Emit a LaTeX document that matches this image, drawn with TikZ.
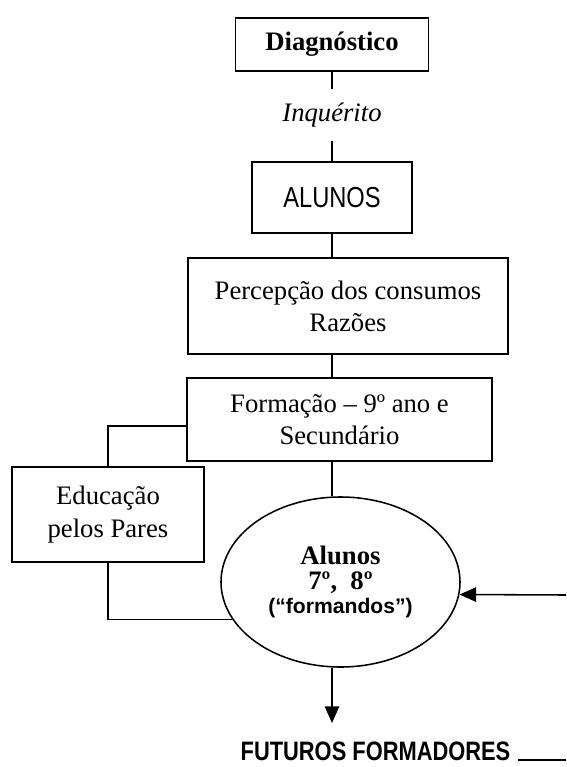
\documentclass[tikz,border=0pt]{standalone}
\usepackage{fontspec}
\setmainfont{Liberation Serif}
\setsansfont{Liberation Sans}
\newfontfamily\narrowsans[FakeStretch=0.82]{Liberation Sans}
\usetikzlibrary{shapes.geometric,arrows.meta}

\begin{document}
\begin{tikzpicture}[x=0.45pt, y=-0.45pt]
        \tikzset{
            box/.style={draw, line width=0.7pt, align=center, inner sep=0pt, font=\fontsize{12}{14.5}\selectfont},
            link/.style={line width=0.7pt},
            arrow/.style={line width=0.7pt, -{Triangle[length=7.5pt, width=6.5pt]}},
            disc/.style={draw, ellipse, line width=0.7pt, align=center, inner sep=0pt}
        }
        \useasboundingbox (0,0) rectangle (566,767);

        % Main column
        \node[box, minimum width=86.9pt, minimum height=23.9pt] (diag) at (332,44.5) {\textbf{Diagnóstico}};
        \node[inner sep=0pt, minimum height=23pt, font=\fontsize{12}{14.5}\selectfont] (inq) at (332,115) {\textit{Inquérito}};
        \node[box, minimum width=72pt, minimum height=32pt, font=\narrowsans\fontsize{13}{15}\selectfont] (alunos) at (332,197.5) {ALUNOS};
        \node[box, minimum width=144pt, minimum height=43.2pt] (perc) at (348,306) {Percepção dos consumos\\Razões};
        \node[box, minimum width=137.25pt, minimum height=37.35pt] (form) at (339.5,419.5) {Formação – 9º ano e\\Secundário};

        % Side branch
        \node[box, minimum width=86.4pt, minimum height=42.75pt] (edu) at (108,514.5) {Educação\\pelos Pares};

        % Trainees
        \node[disc, minimum width=107.55pt, minimum height=76.5pt, font=\fontsize{12}{11}\selectfont] (ell) at (340.5,582)
            {\textbf{Alunos}\\\textbf{7º, \ 8º}\\{\sffamily\bfseries\fontsize{9.5}{11}\selectfont (“formandos”)}};
        \node[anchor=base, font=\narrowsans\bfseries\fontsize{12}{14}\selectfont] (fut) at (375.5,760) {FUTUROS FORMADORES};

        \coordinate (tip) at (332,723);
        \coordinate (inR) at (566,595);
        \coordinate (outR) at (566,760);

        % Connectors
        \draw[link] (diag) -- (inq);
        \draw[link] (inq) -- (alunos);
        \draw[link] (alunos.south) -- (alunos.south |- perc.north);
        \draw[link] (alunos.south |- perc.south) -- (alunos.south |- form.north);
        \draw[link] (alunos.south |- form.south) -- (alunos.south |- ell.north);
        \draw[link] ([yshift=-3pt]form.west) -| (edu.north);
        \draw[link] (edu.south) |- (ell.199);
        \draw[arrow] (inR) -- (ell.354);
        \draw[arrow] (alunos.south |- ell.south) -- (tip);
        \draw[link] (fut.base east) -- (outR);
    \end{tikzpicture}
\end{document}
